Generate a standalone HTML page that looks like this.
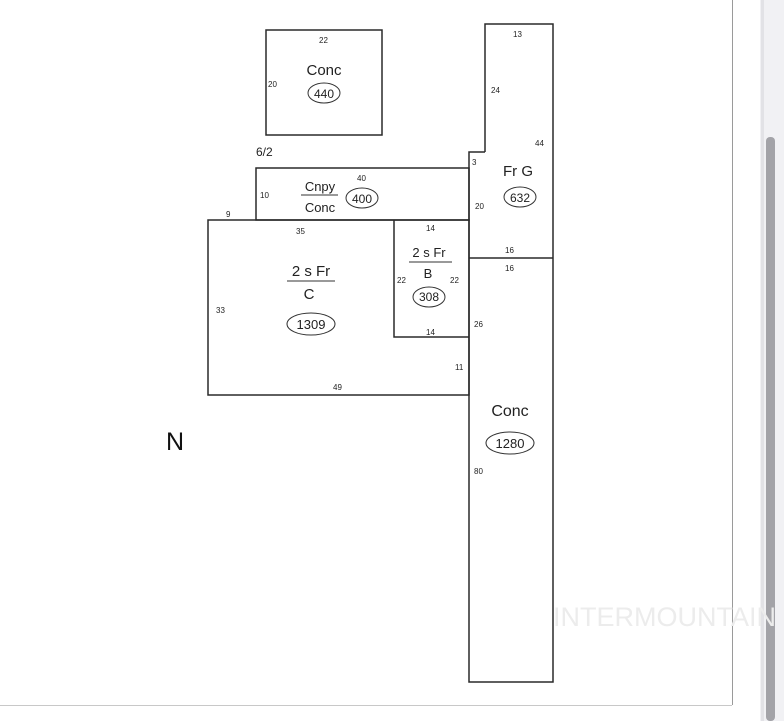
<!DOCTYPE html>
<html><head><style>
html,body{margin:0;padding:0;background:#fff;width:784px;height:721px;overflow:hidden}
svg{display:block;font-family:"Liberation Sans",Arial,sans-serif}
</style></head><body>
<svg width="784" height="721" viewBox="0 0 784 721">
<rect x="0" y="0" width="784" height="721" fill="#fff"/>
<line x1="732.5" y1="0" x2="732.5" y2="705" stroke="#9a9a9a" stroke-width="1"/>
<line x1="0" y1="705.5" x2="732" y2="705.5" stroke="#c8c8c8" stroke-width="1"/>
<rect x="760" y="0" width="24" height="721" fill="#f1f1f4"/>
<rect x="761" y="0" width="3" height="721" fill="#e2e2e6"/>
<rect x="766" y="137" width="9" height="584" rx="4" fill="#a3a3a8"/>
<g fill="none" stroke="#2a2a2a" stroke-width="1.5">
<rect x="266" y="30" width="116" height="105"/>
<polyline points="485,152 485,24 553,24 553,682 469,682 469,152 485,152"/>
<line x1="469" y1="258" x2="553" y2="258"/>
<rect x="256" y="168" width="213" height="52"/>
<rect x="208" y="220" width="261" height="175"/>
<polyline points="394,220 394,337 469,337"/>
</g>
<g font-size="8" fill="#222">
<text x="319" y="43">22</text>
<text x="268" y="87">20</text>
<text x="513" y="37">13</text>
<text x="491" y="93">24</text>
<text x="535" y="146">44</text>
<text x="472" y="165">3</text>
<text x="475" y="209">20</text>
<text x="505" y="253">16</text>
<text x="505" y="271">16</text>
<text x="357" y="181">40</text>
<text x="260" y="198">10</text>
<text x="226" y="217">9</text>
<text x="296" y="234">35</text>
<text x="426" y="231">14</text>
<text x="397" y="283">22</text>
<text x="450" y="283">22</text>
<text x="426" y="335">14</text>
<text x="216" y="313">33</text>
<text x="474" y="327">26</text>
<text x="455" y="370">11</text>
<text x="333" y="390">49</text>
<text x="474" y="474">80</text>
</g>
<text x="256" y="156" font-size="12" fill="#222">6/2</text>
<g fill="#222" text-anchor="middle">
<text x="324" y="75" font-size="15">Conc</text>
<text x="518" y="176" font-size="15">Fr G</text>
<text x="320" y="191" font-size="13">Cnpy</text>
<text x="320" y="212" font-size="13">Conc</text>
<text x="311" y="276" font-size="15">2 s Fr</text>
<text x="309" y="299" font-size="15">C</text>
<text x="429" y="257" font-size="13">2 s Fr</text>
<text x="428" y="278" font-size="13">B</text>
<text x="510" y="416" font-size="16">Conc</text>
<text x="324" y="98" font-size="12">440</text>
<text x="362" y="203" font-size="12">400</text>
<text x="520" y="202" font-size="12">632</text>
<text x="429" y="301" font-size="12">308</text>
<text x="311" y="329" font-size="13">1309</text>
<text x="510" y="448" font-size="13">1280</text>
</g>
<g fill="none" stroke="#333" stroke-width="1">
<line x1="301" y1="195" x2="338" y2="195"/>
<line x1="287" y1="281" x2="335" y2="281"/>
<line x1="409" y1="262" x2="452" y2="262"/>
<ellipse cx="324" cy="93" rx="16" ry="10"/>
<ellipse cx="362" cy="198" rx="16" ry="10"/>
<ellipse cx="520" cy="197" rx="16" ry="10"/>
<ellipse cx="429" cy="297" rx="16" ry="10"/>
<ellipse cx="311" cy="324" rx="24" ry="11"/>
<ellipse cx="510" cy="443" rx="24" ry="11"/>
</g>
<text x="166" y="450" font-size="25" fill="#111">N</text>
<text x="553" y="626" font-size="27" fill="#ececec">INTERMOUNTAIN</text>
</svg>
</body></html>
